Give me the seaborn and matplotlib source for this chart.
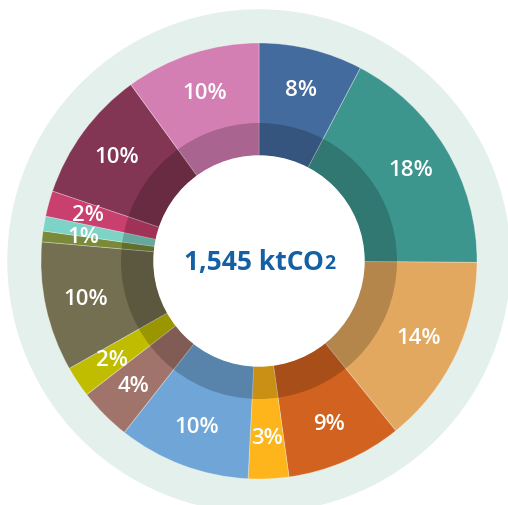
import numpy as np
import seaborn as sns
import matplotlib.pyplot as plt
from matplotlib.patches import Circle, Wedge

sns.set_theme(style="white")
plt.rcParams['font.family'] = ['Open Sans', 'DejaVu Sans']

# Shares of the total, clockwise from 12 o'clock
shares = [7.7, 17.4, 14.1, 8.6, 3.0, 9.8, 3.9, 2.3, 9.6, 0.8, 1.1, 1.9, 9.8, 10.0]
labels = ["8%", "18%", "14%", "9%", "3%", "10%", "4%", "2%", "10%", "", "1%", "2%", "10%", "10%"]
colors = ["#446b9e", "#3d968e", "#e3a85f", "#d2621f", "#fdb51b", "#6fa6d7", "#a1746b",
          "#c0bc00", "#736f50", "#7b8a38", "#7dd3c6", "#c93f6d", "#833653", "#d47fb3"]
total_text = "1,545 ktCO"

palette = sns.color_palette(colors)

fig = plt.figure(figsize=(5.08, 5.06), dpi=100)
ax = fig.add_axes([0, 0, 1, 1])
ax.set_aspect("equal")
ax.axis("off")

cx, cy = 259, 244
r_out, r_hole = 218, 105

# pale background disc
ax.add_patch(Circle((cx, cy), 251, color="#e3f0ec", zorder=0))

wedges, _ = ax.pie(shares, colors=palette, startangle=90, counterclock=False,
                   radius=r_out, center=(cx, cy), frame=True,
                   wedgeprops=dict(width=r_out - r_hole, linewidth=0.6,
                                   edgecolor=(1, 1, 1, 0.35)))
for w in wedges:
    w.set_zorder(1)

# darker inner band and white hole
ax.add_patch(Wedge((cx, cy), 138, 0, 360, width=138 - r_hole,
                   facecolor="black", alpha=0.2, linewidth=0, zorder=2))
ax.add_patch(Circle((cx, cy), r_hole, color="white", zorder=3))

ax.set_xlim(0, 508)
ax.set_ylim(0, 506)

# percentage labels at mid angle (the tiny 1% one sits a bit lower)
cum = np.cumsum([0] + shares)
for i, lab in enumerate(labels):
    if not lab:
        continue
    mid = (cum[i] + cum[i + 1]) / 2 / 100 * 360
    if i == 10:
        mid -= 2.0
    ang = np.deg2rad(90 - mid)
    ax.text(cx + 177 * np.cos(ang), cy + 177 * np.sin(ang), lab,
            ha="center", va="center", color="white", fontsize=16,
            fontweight="semibold", zorder=4)

t1 = ax.text(cx - 5, cy - 8, total_text, ha="center", va="baseline",
             color="#1560a5", fontsize=19, fontweight="bold", zorder=5)
ax.annotate("2", xy=(1, 0), xycoords=t1, xytext=(0.5, 1.2),
            textcoords="offset points", ha="left", va="bottom",
            color="#1560a5", fontsize=14, fontweight="bold", zorder=5)

fig.savefig("out.png", dpi=100)
